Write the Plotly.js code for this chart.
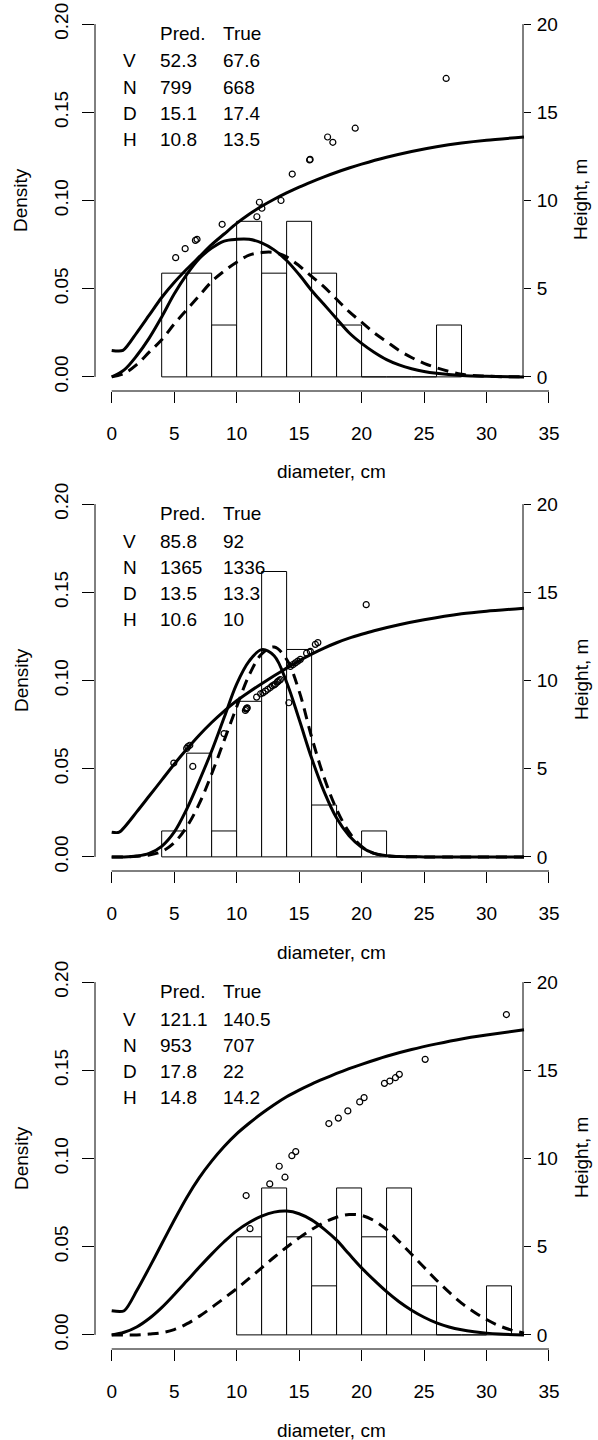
<!DOCTYPE html>
<html>
<head>
<meta charset="utf-8">
<script src="https://cdn.plot.ly/plotly-3.0.1.min.js"></script>
<style>
html,body{margin:0;padding:0;background:#fff;}
#chart{width:598px;height:1440px;}
</style>
</head>
<body>
<div id="chart"></div>
<script>
// ---------------- DATA ----------------
var xTicks = [0, 5, 10, 15, 20, 25, 30, 35];
var densTicks = [0, 0.05, 0.10, 0.15, 0.20];
var densTickText = ['0.00', '0.05', '0.10', '0.15', '0.20'];
var heightTicks = [0, 5, 10, 15, 20];
var statLabels = ['V', 'N', 'D', 'H'];
var colHeads = ['Pred.', 'True'];
var xTitle = 'diameter, cm';
var yTitleLeft = 'Density';
var yTitleRight = 'Height, m';

// Panel 1
var bins1 = [5, 7, 9, 11, 13, 15, 17, 19, 21, 23, 25, 27];
var hist1 = [0.0588, 0.0588, 0.0294, 0.0882, 0.0588, 0.0882, 0.0588, 0.0294, 0, 0, 0, 0.0294];
var hgtX1 = [0, 0.9, 2, 3, 4, 5, 6, 7, 8, 9, 10, 11, 12, 13, 14, 15, 16, 17, 18, 19, 20, 22, 24, 26, 28, 30, 33];
var hgtY1 = [1.5, 1.5, 2.5, 3.5, 4.5, 5.35, 6.1, 6.8, 7.5, 8.1, 8.7, 9.22, 9.67, 10.07, 10.43, 10.76, 11.06, 11.34, 11.6, 11.84, 12.06, 12.45, 12.78, 13.05, 13.26, 13.42, 13.6];
var predX1 = [0, 1, 2, 3, 4, 5, 6, 7, 8, 9, 10, 11, 12, 13, 14, 15, 16, 17, 18, 19, 20, 21, 22, 23, 24, 25, 26, 28, 30, 33];
var predY1 = [0, 0.004, 0.012, 0.022, 0.034, 0.047, 0.058, 0.067, 0.073, 0.077, 0.078, 0.078, 0.076, 0.072, 0.066, 0.058, 0.049, 0.041, 0.033, 0.025, 0.019, 0.014, 0.0098, 0.0068, 0.0046, 0.003, 0.002, 0.0008, 0.0003, 0];
var trueX1 = [0, 1, 2, 3, 4, 5, 6, 7, 8, 9, 10, 11, 12, 13, 14, 15, 16, 17, 18, 19, 20, 21, 22, 23, 24, 25, 26, 28, 30, 33];
var trueY1 = [0, 0.002, 0.007, 0.014, 0.021, 0.030, 0.038, 0.046, 0.054, 0.060, 0.065, 0.069, 0.0705, 0.0705, 0.068, 0.063, 0.057, 0.051, 0.044, 0.037, 0.031, 0.025, 0.020, 0.015, 0.011, 0.0077, 0.0052, 0.0015, 0.0004, 0];
var treeD1 = [5.12, 5.88, 6.7, 6.83, 8.84, 11.62, 11.82, 12.02, 13.55, 14.45, 15.84, 15.88, 17.28, 17.7, 19.49, 26.77];
var treeH1 = [6.76, 7.27, 7.74, 7.8, 8.65, 9.08, 9.9, 9.56, 10.0, 11.5, 12.3, 12.33, 13.6, 13.3, 14.1, 16.92];
var pred1 = ['52.3', '799', '15.1', '10.8'];
var true1 = ['67.6', '668', '17.4', '13.5'];

// Panel 2
var bins2 = [5, 7, 9, 11, 13, 15, 17, 19, 21];
var hist2 = [0.0147, 0.0588, 0.0147, 0.0882, 0.1618, 0.1176, 0.0294, 0, 0.0147];
var hgtX2 = [0, 0.6, 2, 3, 4, 5, 6, 7, 8, 9, 10, 11, 12, 13, 14, 15, 16, 17, 18, 19, 20, 21, 23, 25, 28, 30, 33];
var hgtY2 = [1.4, 1.4, 2.55, 3.45, 4.35, 5.25, 6.1, 6.9, 7.62, 8.27, 8.85, 9.35, 9.82, 10.27, 10.7, 11.12, 11.5, 11.84, 12.14, 12.4, 12.62, 12.82, 13.16, 13.44, 13.78, 13.93, 14.1];
var predX2 = [0, 1, 2, 3, 4, 5, 6, 7, 8, 9, 10, 11, 12, 13, 14, 15, 16, 17, 18, 19, 20, 21, 22, 23, 25, 28, 33];
var predY2 = [0, 0, 0.0005, 0.002, 0.006, 0.014, 0.027, 0.043, 0.06, 0.079, 0.098, 0.111, 0.1175, 0.114, 0.099, 0.078, 0.056, 0.037, 0.022, 0.012, 0.0055, 0.002, 0.0007, 0.0002, 0, 0, 0];
var trueX2 = [0, 1, 2, 3, 4, 5, 6, 7, 8, 9, 10, 11, 12, 13, 14, 15, 16, 17, 18, 19, 20, 21, 22, 23, 25, 28, 33];
var trueY2 = [0, 0, 0.0003, 0.001, 0.003, 0.008, 0.017, 0.03, 0.047, 0.066, 0.085, 0.103, 0.115, 0.119, 0.112, 0.094, 0.068, 0.045, 0.027, 0.014, 0.006, 0.002, 0.0006, 0.0002, 0, 0, 0];
var treeD2 = [4.97, 6.0, 6.1, 6.25, 6.49, 8.99, 10.7, 10.76, 10.8, 10.85, 11.6, 11.92, 12.1, 12.3, 12.5, 12.7, 12.85, 13.0, 13.1, 13.25, 13.3, 13.4, 13.5, 14.18, 14.3, 14.5, 14.7, 14.9, 15.1, 15.6, 15.9, 16.3, 16.5, 20.37];
var treeH2 = [5.32, 6.15, 6.25, 6.33, 5.13, 6.99, 8.3, 8.38, 8.42, 8.45, 9.06, 9.25, 9.3, 9.4, 9.5, 9.6, 9.7, 9.75, 9.8, 9.9, 9.95, 10.0, 10.05, 8.74, 10.8, 10.9, 11.0, 11.1, 11.2, 11.55, 11.65, 12.05, 12.15, 14.3];
var pred2 = ['85.8', '1365', '13.5', '10.6'];
var true2 = ['92', '1336', '13.3', '10'];

// Panel 3
var bins3 = [11, 13, 15, 17, 19, 21, 23, 25, 27, 29, 31];
var hist3 = [0.0556, 0.0833, 0.0556, 0.0278, 0.0833, 0.0556, 0.0833, 0.0278, 0, 0, 0.0278];
var hgtX3 = [0, 1, 2, 3, 4, 5, 6, 7, 8, 9, 10, 11, 12, 13, 14, 15, 16, 17, 18, 19, 20, 22, 24, 26, 28, 30, 33];
var hgtY3 = [1.37, 1.37, 2.5, 3.8, 5.15, 6.5, 7.78, 8.9, 9.85, 10.68, 11.4, 12.0, 12.55, 13.05, 13.5, 13.88, 14.22, 14.53, 14.82, 15.09, 15.34, 15.8, 16.18, 16.5, 16.78, 17.0, 17.3];
var predX3 = [0, 1, 2, 3, 4, 5, 6, 7, 8, 9, 10, 11, 12, 13, 14, 15, 16, 17, 18, 19, 20, 21, 22, 23, 24, 25, 26, 27, 28, 29, 30, 31, 33];
var predY3 = [0, 0.0015, 0.0045, 0.0093, 0.0155, 0.0228, 0.0305, 0.0383, 0.0458, 0.0528, 0.059, 0.0637, 0.0673, 0.0696, 0.0702, 0.0687, 0.0652, 0.060, 0.0537, 0.0458, 0.038, 0.031, 0.0245, 0.0188, 0.014, 0.010, 0.0068, 0.0045, 0.0029, 0.0018, 0.001, 0.0005, 0];
var trueX3 = [0, 1, 2, 3, 4, 5, 6, 7, 8, 9, 10, 11, 12, 13, 14, 15, 16, 17, 18, 19, 20, 21, 22, 23, 24, 25, 26, 27, 28, 29, 30, 31, 32, 33];
var trueY3 = [0, 0, 0, 0.0005, 0.0012, 0.003, 0.0062, 0.0105, 0.0155, 0.0208, 0.0262, 0.032, 0.038, 0.044, 0.0497, 0.055, 0.0597, 0.0637, 0.0667, 0.0682, 0.0677, 0.0648, 0.0597, 0.053, 0.0457, 0.0383, 0.031, 0.0242, 0.018, 0.013, 0.0087, 0.0052, 0.0027, 0.001];
var treeD3 = [10.76, 11.07, 12.65, 13.41, 13.87, 14.42, 14.73, 17.38, 18.14, 18.9, 19.85, 20.2, 21.83, 22.26, 22.71, 23.02, 25.09, 31.59];
var treeH3 = [7.9, 6.02, 8.56, 9.56, 8.94, 10.16, 10.39, 11.98, 12.29, 12.7, 13.21, 13.45, 14.26, 14.39, 14.58, 14.77, 15.62, 18.16];
var pred3 = ['121.1', '953', '17.8', '14.8'];
var true3 = ['140.5', '707', '22', '14.2'];

// ---------------- BUILD ----------------
var W = 598, H = 1440;
var FONT = 'Liberation Sans, Arial, Helvetica, sans-serif';
function px(x) { return x / W; }
function py(y) { return 1 - y / H; }

var panels = [
  {top: 0,   bins: bins1, hist: hist1, hx: hgtX1, hy: hgtY1, dx: predX1, dy: predY1, tx: trueX1, ty: trueY1, ptx: treeD1, pty: treeH1, pred: pred1, tru: true1},
  {top: 480, bins: bins2, hist: hist2, hx: hgtX2, hy: hgtY2, dx: predX2, dy: predY2, tx: trueX2, ty: trueY2, ptx: treeD2, pty: treeH2, pred: pred2, tru: true2},
  {top: 958, bins: bins3, hist: hist3, hx: hgtX3, hy: hgtY3, dx: predX3, dy: predY3, tx: trueX3, ty: trueY3, ptx: treeD3, pty: treeH3, pred: pred3, tru: true3}
];

var traces = [];
var layout = {
  width: W, height: H,
  margin: {l: 0, r: 0, t: 0, b: 0},
  paper_bgcolor: '#fff', plot_bgcolor: 'rgba(0,0,0,0)',
  showlegend: false,
  font: {family: FONT, size: 19, color: '#000'},
  shapes: [], annotations: []
};

var LEFT = 95, RIGHT_AX = 523, X0PX = 111.7, PXU = 12.494;
var xr0 = (LEFT - X0PX) / PXU, xr1 = 35.4;
var xRight = X0PX + xr1 * PXU;

panels.forEach(function (p, i) {
  var k = i + 1;
  var xa = 'x' + (k === 1 ? '' : k);
  var yd = 'y' + (2 * k - 1 === 1 ? '' : (2 * k - 1));
  var yh = 'y' + (2 * k);
  var xaName = 'xaxis' + (k === 1 ? '' : k);
  var ydName = 'yaxis' + (2 * k - 1 === 1 ? '' : (2 * k - 1));
  var yhName = 'yaxis' + (2 * k);
  var T = p.top;
  var yBot = T + 391, yTop = T + 10;

  layout[xaName] = {
    domain: [px(LEFT), px(xRight)], range: [xr0, xr1], anchor: yd,
    tickvals: xTicks, ticks: 'outside', ticklen: 11, tickwidth: 1, tickcolor: '#000',
    showline: false, showgrid: false, zeroline: false, fixedrange: true,
    tickfont: {family: FONT, size: 19, color: '#000'}, ticklabelstandoff: 14
  };
  layout[ydName] = {
    domain: [py(yBot), py(yTop)], range: [-0.008, 0.208], anchor: xa,
    tickvals: densTicks, ticktext: densTickText, tickangle: -90,
    ticks: 'outside', ticklen: 12, tickwidth: 1, tickcolor: '#000',
    showline: false, showgrid: false, zeroline: false, fixedrange: true,
    tickfont: {family: FONT, size: 19, color: '#000'}, ticklabelstandoff: 6
  };
  layout[yhName] = {
    overlaying: yd, side: 'right', anchor: 'free', position: px(RIGHT_AX),
    range: [-0.8, 20.8], tickvals: heightTicks,
    ticks: 'outside', ticklen: 7, tickwidth: 1, tickcolor: '#000',
    showline: false, showgrid: false, zeroline: false, fixedrange: true,
    tickfont: {family: FONT, size: 19, color: '#000'}, ticklabelstandoff: 2
  };

  // histogram
  traces.push({type: 'bar', x: p.bins, y: p.hist, width: 2, xaxis: xa, yaxis: yd,
    marker: {color: '#fff', line: {color: '#000', width: 1}}, hoverinfo: 'skip'});
  // predicted density (solid)
  traces.push({type: 'scatter', mode: 'lines', x: p.dx, y: p.dy, xaxis: xa, yaxis: yd,
    line: {color: '#000', width: 3, shape: 'spline', smoothing: 1}, hoverinfo: 'skip'});
  // true density (dashed)
  traces.push({type: 'scatter', mode: 'lines', x: p.tx, y: p.ty, xaxis: xa, yaxis: yd,
    line: {color: '#000', width: 3, shape: 'spline', smoothing: 1, dash: '11px,7px'}, hoverinfo: 'skip'});
  // height curve
  traces.push({type: 'scatter', mode: 'lines', x: p.hx, y: p.hy, xaxis: xa, yaxis: yh,
    line: {color: '#000', width: 3, shape: 'spline', smoothing: 0.7}, hoverinfo: 'skip'});
  // measured trees
  traces.push({type: 'scatter', mode: 'markers', x: p.ptx, y: p.pty, xaxis: xa, yaxis: yh,
    marker: {symbol: 'circle-open', size: 6, color: '#000', line: {width: 1.2, color: '#000'}}, hoverinfo: 'skip'});

  // axis lines (R style: only between first and last tick)
  layout.shapes.push({type: 'line', xref: 'paper', yref: yd, x0: px(LEFT), x1: px(LEFT), y0: 0, y1: 0.2, line: {color: '#000', width: 1}});
  layout.shapes.push({type: 'line', xref: 'paper', yref: yh, x0: px(RIGHT_AX), x1: px(RIGHT_AX), y0: 0, y1: 20, line: {color: '#000', width: 1}});
  layout.shapes.push({type: 'line', xref: xa, yref: 'paper', x0: 0, x1: 35, y0: py(yBot), y1: py(yBot), line: {color: '#000', width: 1}});

  // axis titles
  layout.annotations.push({xref: 'paper', yref: 'paper', x: px(21), y: py(T + 200), text: yTitleLeft, textangle: -90, showarrow: false, xanchor: 'center', yanchor: 'middle', font: {family: FONT, size: 19, color: '#000'}});
  layout.annotations.push({xref: 'paper', yref: 'paper', x: px(581), y: py(T + 200), text: yTitleRight, textangle: -90, showarrow: false, xanchor: 'center', yanchor: 'middle', font: {family: FONT, size: 19, color: '#000'}});
  layout.annotations.push({xref: 'paper', yref: 'paper', x: px(331), y: py(T + 472), text: xTitle, showarrow: false, xanchor: 'center', yanchor: 'middle', font: {family: FONT, size: 19, color: '#000'}});

  // stats table
  var rowsY = [33.3, 61, 87.6, 113.3, 139.2];
  layout.annotations.push({xref: 'paper', yref: 'paper', x: px(158), y: py(T + rowsY[0]), text: colHeads[0], showarrow: false, xanchor: 'left', yanchor: 'middle', font: {family: FONT, size: 19, color: '#000'}});
  layout.annotations.push({xref: 'paper', yref: 'paper', x: px(221.5), y: py(T + rowsY[0]), text: colHeads[1], showarrow: false, xanchor: 'left', yanchor: 'middle', font: {family: FONT, size: 19, color: '#000'}});
  for (var r = 0; r < 4; r++) {
    var yy = py(T + rowsY[r + 1]);
    layout.annotations.push({xref: 'paper', yref: 'paper', x: px(129.5), y: yy, text: statLabels[r], showarrow: false, xanchor: 'center', yanchor: 'middle', font: {family: FONT, size: 19, color: '#000'}});
    layout.annotations.push({xref: 'paper', yref: 'paper', x: px(158), y: yy, text: p.pred[r], showarrow: false, xanchor: 'left', yanchor: 'middle', font: {family: FONT, size: 19, color: '#000'}});
    layout.annotations.push({xref: 'paper', yref: 'paper', x: px(221.5), y: yy, text: p.tru[r], showarrow: false, xanchor: 'left', yanchor: 'middle', font: {family: FONT, size: 19, color: '#000'}});
  }
});

Plotly.newPlot('chart', traces, layout, {staticPlot: true, displayModeBar: false});
</script>
</body>
</html>
